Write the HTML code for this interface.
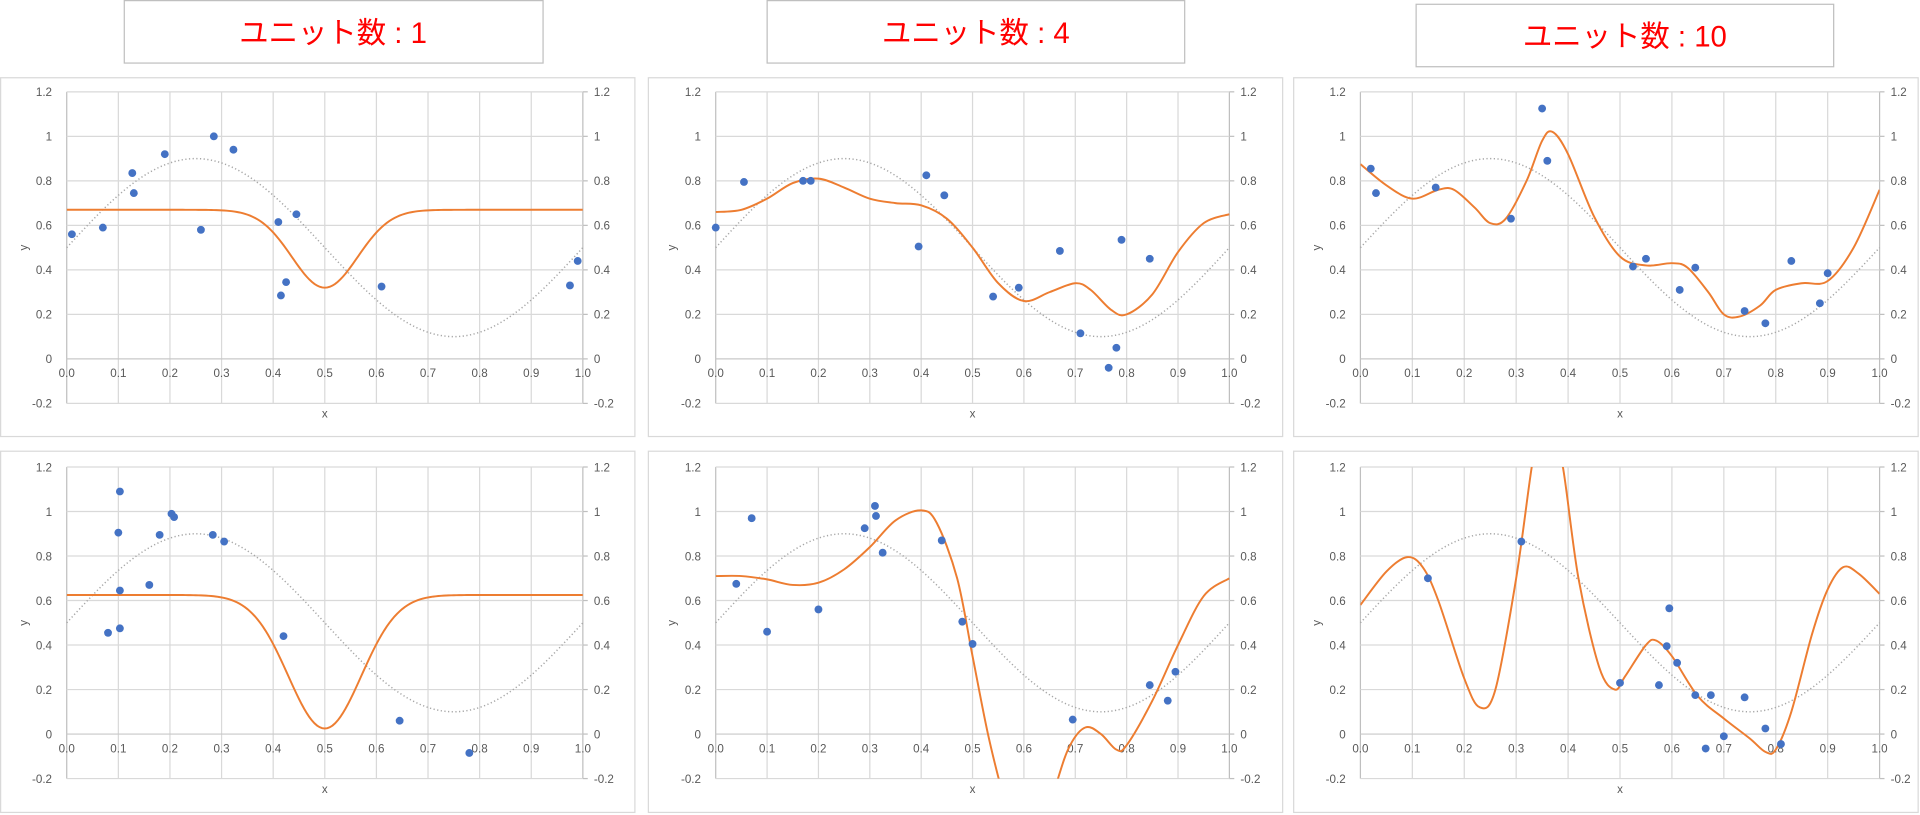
<!DOCTYPE html>
<html><head><meta charset="utf-8"><style>
html,body{margin:0;padding:0;background:#fff;width:1920px;height:815px;overflow:hidden}
svg{display:block}
text{font-family:"Liberation Sans","Noto Sans CJK JP",sans-serif}
</style></head><body>
<svg id="s" width="1920" height="815" viewBox="0 0 1568 665.6" preserveAspectRatio="none" xmlns="http://www.w3.org/2000/svg">
<rect x="101.5" y="0.5" width="342" height="51" fill="#fff" stroke="#bfbfbf"/>
<text x="272" y="35" text-anchor="middle" font-size="24" fill="#ff0000">ユニット数 : 1</text>
<rect x="626.5" y="0.5" width="341" height="51" fill="#fff" stroke="#bfbfbf"/>
<text x="797" y="35" text-anchor="middle" font-size="24" fill="#ff0000">ユニット数 : 4</text>
<rect x="1156.5" y="3.5" width="341" height="51" fill="#fff" stroke="#bfbfbf"/>
<text x="1327" y="38" text-anchor="middle" font-size="24" fill="#ff0000">ユニット数 : 10</text>
<g id="g"></g>
</svg>
<script>
const NS="http://www.w3.org/2000/svg";
const g=document.getElementById('g');
function el(t,a,txt){const e=document.createElementNS(NS,t);for(const k in a)e.setAttribute(k,a[k]);if(txt!==undefined)e.textContent=txt;g.appendChild(e);return e;}
const cols=[{px:0.5,pw:518,x0:54.5,x1:476},{px:529.5,pw:518,x0:584.5,x1:1004},{px:1056.5,pw:510,x0:1111,x1:1535}];
const rows=[{py:63.5,ph:293,yt:75},{py:368.5,ph:295,yt:381.4}];
const data=[
[
 {dots:[[0.01,0.56],[0.07,0.59],[0.127,0.835],[0.13,0.745],[0.19,0.92],[0.26,0.58],[0.285,1.0],[0.323,0.94],[0.41,0.615],[0.415,0.285],[0.425,0.345],[0.445,0.65],[0.61,0.325],[0.975,0.33],[0.99,0.44]],
  f:x=>0.67-0.35*Math.exp(-Math.pow((x-0.5)/0.09,2))},
 {dots:[[0.08,0.455],[0.1,0.905],[0.103,1.09],[0.103,0.645],[0.103,0.475],[0.16,0.67],[0.18,0.895],[0.203,0.99],[0.208,0.975],[0.283,0.895],[0.305,0.865],[0.42,0.44],[0.645,0.06],[0.78,-0.085]],
  f:x=>0.625-0.6*Math.exp(-Math.pow((x-0.5)/0.1,2))}
],
[
 {dots:[[0.0,0.59],[0.055,0.795],[0.17,0.8],[0.185,0.8],[0.395,0.505],[0.41,0.825],[0.445,0.735],[0.54,0.28],[0.59,0.32],[0.67,0.485],[0.71,0.115],[0.765,-0.04],[0.78,0.05],[0.79,0.535],[0.845,0.45]],
  p:[[0,0.66],[0.05,0.67],[0.1,0.72],[0.15,0.79],[0.2,0.81],[0.25,0.77],[0.3,0.72],[0.35,0.70],[0.4,0.69],[0.45,0.63],[0.5,0.5],[0.55,0.34],[0.6,0.26],[0.65,0.3],[0.7,0.34],[0.73,0.31],[0.77,0.22],[0.8,0.2],[0.85,0.29],[0.9,0.48],[0.95,0.61],[1.0,0.65]]},
 {dots:[[0.04,0.675],[0.07,0.97],[0.1,0.46],[0.2,0.56],[0.29,0.925],[0.31,1.025],[0.312,0.98],[0.325,0.815],[0.44,0.87],[0.48,0.505],[0.5,0.405],[0.695,0.065],[0.845,0.22],[0.88,0.15],[0.895,0.28]],
  p:[[0,0.71],[0.05,0.71],[0.1,0.695],[0.15,0.67],[0.2,0.68],[0.25,0.74],[0.3,0.84],[0.35,0.96],[0.4,1.005],[0.43,0.95],[0.47,0.7],[0.5,0.35],[0.53,0.0],[0.56,-0.28],[0.6,-0.6],[0.63,-0.5],[0.665,-0.21],[0.69,-0.05],[0.72,0.03],[0.75,0.0],[0.78,-0.07],[0.8,-0.05],[0.85,0.15],[0.9,0.4],[0.95,0.62],[1.0,0.7]]}
],
[
 {dots:[[0.02,0.855],[0.03,0.745],[0.145,0.77],[0.29,0.63],[0.35,1.125],[0.36,0.89],[0.525,0.415],[0.55,0.45],[0.615,0.31],[0.645,0.41],[0.74,0.215],[0.78,0.16],[0.83,0.44],[0.885,0.25],[0.9,0.385]],
  p:[[0,0.875],[0.05,0.78],[0.1,0.72],[0.15,0.76],[0.18,0.76],[0.22,0.68],[0.25,0.61],[0.28,0.63],[0.32,0.8],[0.35,0.98],[0.37,1.02],[0.4,0.92],[0.45,0.64],[0.5,0.46],[0.55,0.42],[0.6,0.43],[0.63,0.41],[0.67,0.3],[0.7,0.2],[0.73,0.19],[0.77,0.24],[0.8,0.31],[0.85,0.34],[0.9,0.35],[0.95,0.5],[1.0,0.76]]},
 {dots:[[0.13,0.7],[0.31,0.865],[0.5,0.23],[0.575,0.22],[0.59,0.395],[0.595,0.565],[0.61,0.32],[0.645,0.175],[0.665,-0.065],[0.675,0.175],[0.7,-0.01],[0.74,0.165],[0.78,0.025],[0.81,-0.045]],
  p:[[0,0.58],[0.05,0.73],[0.09,0.795],[0.12,0.75],[0.15,0.6],[0.2,0.25],[0.23,0.12],[0.26,0.2],[0.3,0.7],[0.33,1.2],[0.35,1.45],[0.37,1.35],[0.39,1.2],[0.42,0.7],[0.46,0.3],[0.49,0.2],[0.51,0.26],[0.55,0.4],[0.57,0.42],[0.6,0.35],[0.65,0.17],[0.7,0.07],[0.75,-0.02],[0.78,-0.08],[0.8,-0.07],[0.83,0.1],[0.87,0.45],[0.9,0.65],[0.93,0.75],[0.96,0.72],[1.0,0.63]]}
]];
function catmull(pts){let d=`M${pts[0][0]},${pts[0][1]}`;for(let i=0;i<pts.length-1;i++){const p0=pts[Math.max(0,i-1)],p1=pts[i],p2=pts[i+1],p3=pts[Math.min(pts.length-1,i+2)];
 const c1=[p1[0]+(p2[0]-p0[0])/6,p1[1]+(p2[1]-p0[1])/6],c2=[p2[0]-(p3[0]-p1[0])/6,p2[1]-(p3[1]-p1[1])/6];d+=` C${c1[0]},${c1[1]} ${c2[0]},${c2[1]} ${p2[0]},${p2[1]}`;}return d;}
let cid=0;
cols.forEach((c,ci)=>rows.forEach((r,ri)=>{
 const X=x=>c.x0+x*(c.x1-c.x0);const ys=(218.1)/1.2;const y0=r.yt+218.1;const Y=y=>y0-y*ys;
 el('rect',{x:c.px,y:r.py,width:c.pw,height:r.ph,fill:'#fff',stroke:'#d9d9d9'});
 for(let i=0;i<=10;i++){el('line',{x1:X(i/10),x2:X(i/10),y1:Y(1.2),y2:Y(-0.2),stroke:i==0||i==10?'#bfbfbf':'#d9d9d9','stroke-width':1});
  el('text',{x:X(i/10),y:y0+15,'font-size':9.5,fill:'#595959','text-anchor':'middle'},(i/10).toFixed(1));}
 for(let j=-1;j<=6;j++){const v=j*0.2;el('line',{x1:X(0),x2:X(1),y1:Y(v),y2:Y(v),stroke:j==0?'#c8c8c8':'#d9d9d9'});
  const lab=j==5?'1':j==0?'0':(Math.round(v*10)/10).toString();
  el('line',{x1:X(1),x2:X(1)+4,y1:Y(v),y2:Y(v),stroke:'#bfbfbf'});
  el('text',{x:c.x0-12,y:Y(v)+3.5,'font-size':9.5,fill:'#595959','text-anchor':'end'},lab);
  el('text',{x:X(1)+9,y:Y(v)+3.5,'font-size':9.5,fill:'#595959'},lab);}
 el('text',{x:(c.x0+c.x1)/2,y:y0+48,'font-size':9.5,fill:'#595959','text-anchor':'middle'},'x');
 el('text',{x:0,y:0,'font-size':9.5,fill:'#595959','text-anchor':'middle',transform:`translate(${c.px+22},${Y(0.5)}) rotate(-90)`},'y');
 const id='c'+(cid++);const cp=el('clipPath',{id});const rc=document.createElementNS(NS,'rect');rc.setAttribute('x',X(0));rc.setAttribute('y',Y(1.2));rc.setAttribute('width',X(1)-X(0));rc.setAttribute('height',Y(-0.2)-Y(1.2));cp.appendChild(rc);
 let d='';for(let i=0;i<=200;i++){const x=i/200;d+=(i?'L':'M')+X(x).toFixed(2)+','+Y(0.5+0.4*Math.sin(2*Math.PI*x)).toFixed(2);}
 el('path',{d,fill:'none',stroke:'#a6a6a6','stroke-width':1.2,'stroke-dasharray':'1 2'});
 const D=data[ci][ri];let od;
 if(D.f){od='';for(let i=0;i<=200;i++){const x=i/200;od+=(i?'L':'M')+X(x).toFixed(2)+','+Y(D.f(x)).toFixed(2);}}
 else od=catmull(D.p.map(p=>[X(p[0]),Y(p[1])]));
 el('path',{d:od,fill:'none',stroke:'#ed7d31','stroke-width':1.6,'clip-path':`url(#${id})`});
 D.dots.forEach(p=>el('circle',{cx:X(p[0]),cy:Y(p[1]),r:3.2,fill:'#4472c4'}));
}));
</script>
</body></html>
